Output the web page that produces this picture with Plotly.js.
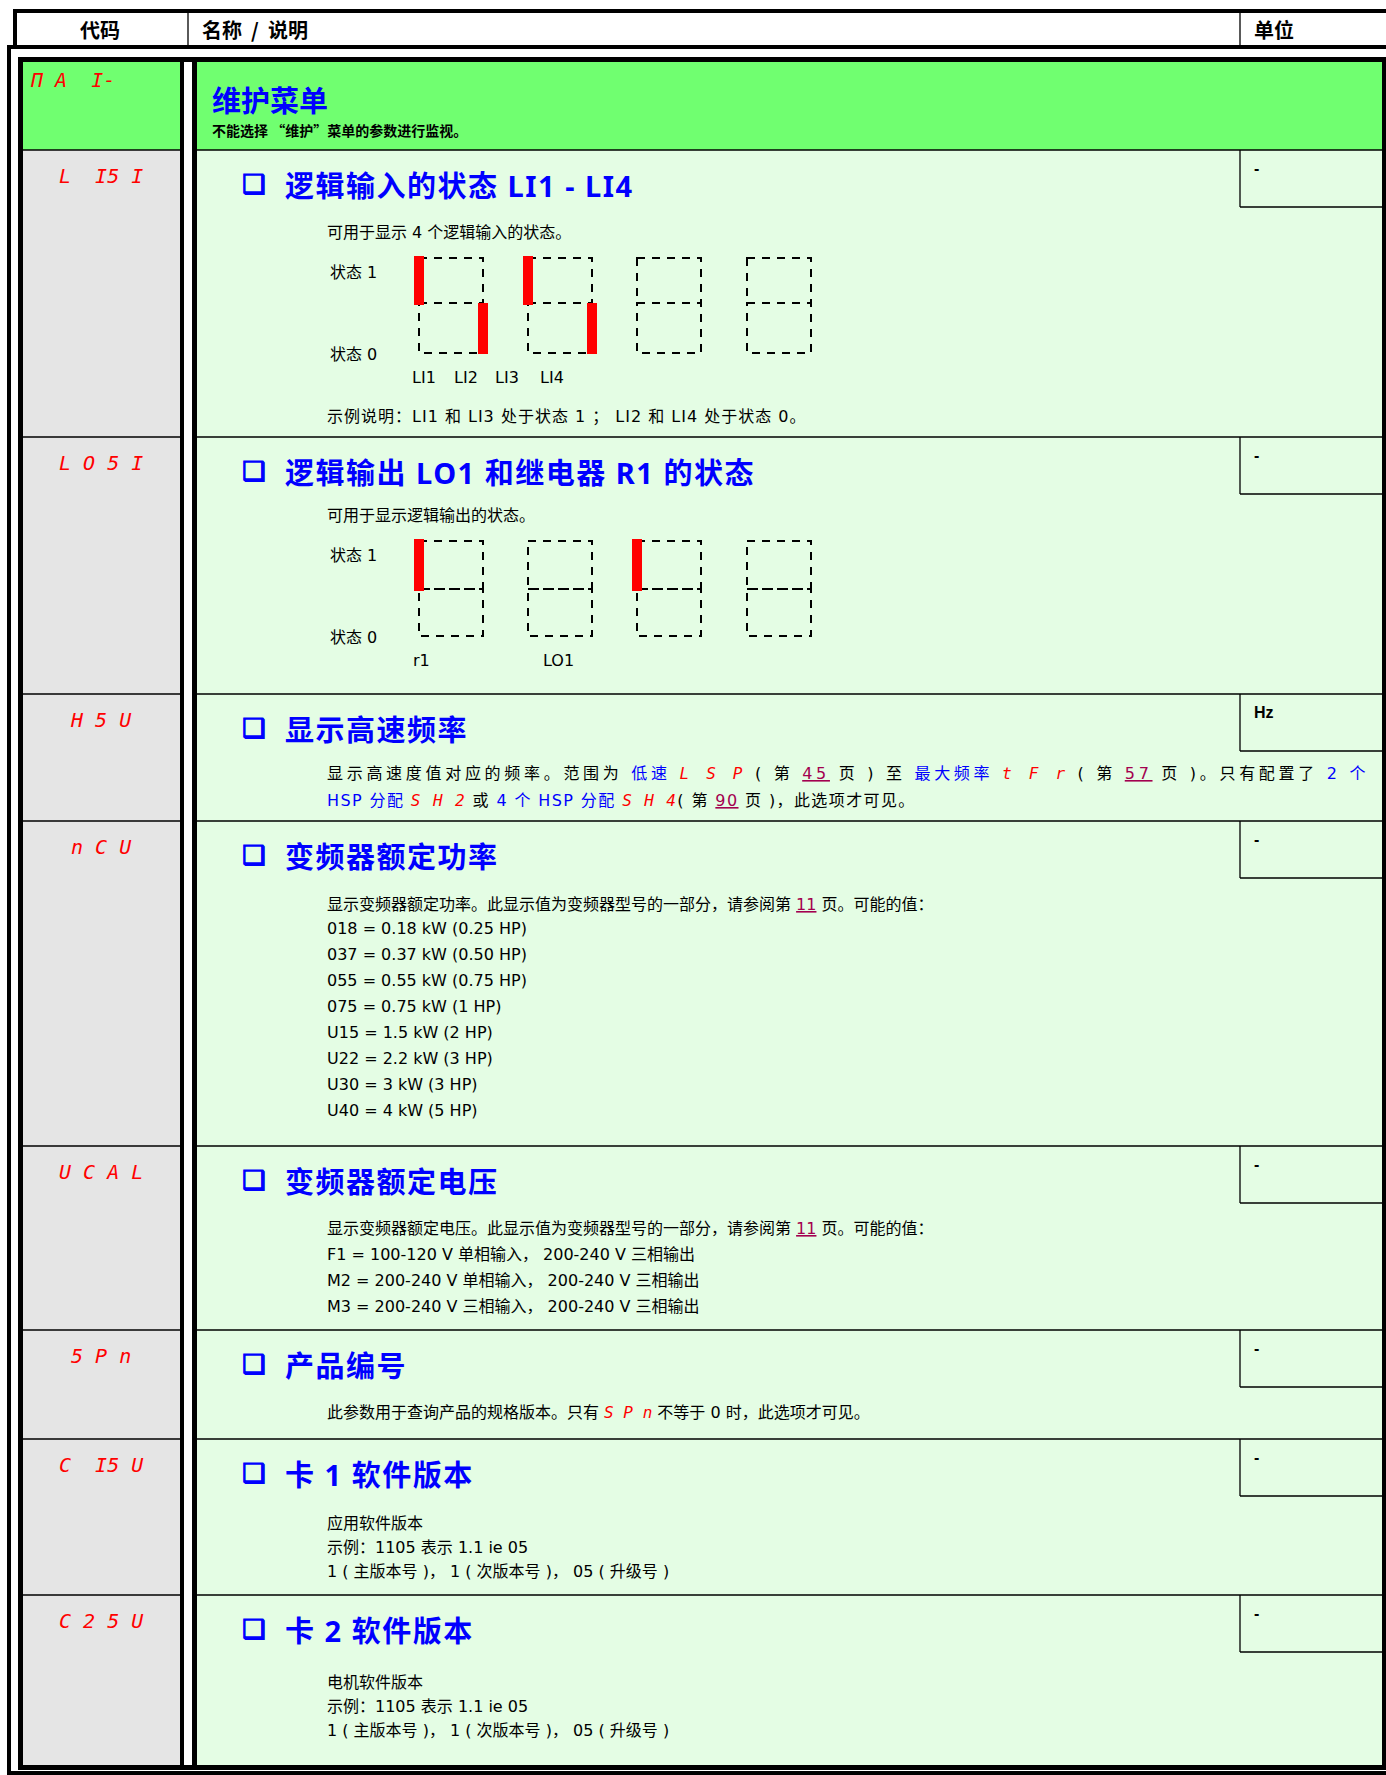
<!DOCTYPE html>
<html><head><meta charset="utf-8">
<script src="https://cdn.plot.ly/plotly-3.0.1.min.js"></script>
<style>html,body{margin:0;padding:0;background:#fff;}#chart{width:1386px;height:1775px;}</style>
</head><body><div id="chart"></div>
<script>
// ---------- DATA ----------
const headerLabels = ["代码", "名称 / 说明", "单位"];
const rowCodes = ["Π A  I-", "L  I5 I", "L O 5 I", "H 5 U", "n C U", "U C A L", "5 P n", "C  I5 U", "C 2 5 U"];
const rowTitles = ["维护菜单", "逻辑输入的状态 LI1 - LI4", "逻辑输出 LO1 和继电器 R1 的状态", "显示高速频率",
  "变频器额定功率", "变频器额定电压", "产品编号", "卡 1 软件版本", "卡 2 软件版本"];
const rowUnits = ["", "-", "-", "Hz", "-", "-", "-", "-", "-"];
const menuNote = "不能选择 “维护”菜单的参数进行监视。";
const stateLabels = ["状态 1", "状态 0"];
const inputLabels = ["LI1", "LI2", "LI3", "LI4"];
const inputStates = [1, 0, 1, 0];           // LI1..LI4
const outputLabels = ["r1", "LO1"];
const outputBars = [[0, 0, 1], [2, 0, 1]];  // [digit, side, state]
const lisText = ["可用于显示 4 个逻辑输入的状态。", "示例说明：LI1 和 LI3 处于状态 1 ； LI2 和 LI4 处于状态 0。"];
const losText = ["可用于显示逻辑输出的状态。"];
const BL = s => '<span style="color:#0000ff">' + s + '</span>';
const RC = s => '<span style="color:#ff0000;font-family:DejaVu Sans Mono;font-style:italic">' + s + '</span>';
const PG = s => '<span style="color:#a3004f"><u>' + s + '</u></span>';
const SP = (s, ls) => '<span style="letter-spacing:' + ls + 'px">' + s + '</span>';
const hsuText = [
  "显示高速度值对应的频率。范围为 " + BL("低速") + " " + RC("L S P") + " ( 第 " + PG("45") + " 页 ) 至 " + BL("最大频率") + " " + RC("t F r") + " ( 第 " + PG("57") + " 页 )。只有配置了 " + BL("2 个"),
  BL("HSP 分配") + " " + RC("S H 2") + " 或 " + BL("4 个 HSP 分配") + " " + RC("S H 4") + "( 第 " + PG("90") + " 页 )，此选项才可见。"
];
const ncuText = ["显示变频器额定功率。此显示值为变频器型号的一部分，请参阅第 " + PG("11") + " 页。可能的值：",
  "018 = 0.18 kW (0.25 HP)", "037 = 0.37 kW (0.50 HP)", "055 = 0.55 kW (0.75 HP)", "075 = 0.75 kW (1 HP)",
  "U15 = 1.5 kW (2 HP)", "U22 = 2.2 kW (3 HP)", "U30 = 3 kW (3 HP)", "U40 = 4 kW (5 HP)"];
const ucalText = ["显示变频器额定电压。此显示值为变频器型号的一部分，请参阅第 " + PG("11") + " 页。可能的值：",
  "F1 = 100-120 V 单相输入， 200-240 V 三相输出", "M2 = 200-240 V 单相输入， 200-240 V 三相输出",
  "M3 = 200-240 V 三相输入， 200-240 V 三相输出"];
const spnText = ["此参数用于查询产品的规格版本。只有 " + RC("S P n") + " 不等于 0 时，此选项才可见。"];
const c1Text = ["应用软件版本", "示例：1105 表示 1.1 ie 05", "1 ( 主版本号 )， 1 ( 次版本号 )， 05 ( 升级号 )"];
const c2Text = ["电机软件版本", "示例：1105 表示 1.1 ie 05", "1 ( 主版本号 )， 1 ( 次版本号 )， 05 ( 升级号 )"];

// ---------- GEOMETRY ----------
const W = 1386, H = 1775;
const rowTops = [62, 150, 437, 694, 821, 1146, 1330, 1439, 1595];
const boxBottom = 1765;
const codeL = 23, codeR = 180, contL = 197, contR = 1382, unitL = 1240;
const CJK = "Noto Sans CJK SC, Noto Sans, sans-serif";
const BODY = "DejaVu Sans, Noto Sans CJK SC, sans-serif";
const TITLE = "Noto Sans, Noto Sans CJK SC, sans-serif";
const shapes = [], ann = [];
function rect(x0, y0, x1, y1, fill, line) {
  shapes.push({type: 'rect', xref: 'x', yref: 'y', x0, y0, x1, y1, fillcolor: fill,
    line: line || {width: 0}, layer: 'above'});
}
function seg(x0, y0, x1, y1, w, dash) {
  shapes.push({type: 'line', xref: 'x', yref: 'y', x0, y0, x1, y1, layer: 'above',
    line: {color: '#000', width: w, dash: dash || 'solid'}});
}
function txt(x, y, text, size, color, o) {
  o = o || {};
  ann.push({x, y, xref: 'x', yref: 'y', text, showarrow: false, xanchor: o.xa || 'left', yanchor: 'middle',
    align: 'left', font: {family: o.family || BODY, size, color, weight: o.weight || 'normal', style: o.style || 'normal'}});
}

// backgrounds
rect(codeL, 62, codeR, boxBottom, '#e5e5e5');
rect(contL, 62, contR, boxBottom, '#e4fde4');
rect(codeL, 62, codeR, rowTops[1], '#70ff70');
rect(contL, 62, contR, rowTops[1], '#70ff70');
// header
rect(13, 9, W, 13, '#000');
rect(7, 45, W, 49, '#000');
rect(13, 9, 17, 49, '#000');
seg(188, 13, 188, 45, 1.3);
seg(unitL, 13, unitL, 45, 1.3);
// outer frame
rect(7, 45, 11, H, '#000');
rect(7, 1771, W, H, '#000');
// inner box
rect(18, 57, W, 62, '#000');
rect(18, 57, 23, 1770, '#000');
rect(1382, 57, W, 1770, '#000');
rect(18, boxBottom, W, 1770, '#000');
rect(codeR, 62, 184, boxBottom, '#000');
rect(192, 62, contL, boxBottom, '#000');
// row separators and unit boxes
for (let i = 1; i < rowTops.length; i++) {
  seg(codeL, rowTops[i], codeR, rowTops[i], 1.3);
  seg(contL, rowTops[i], contR, rowTops[i], 1.3);
  if (rowUnits[i]) {
    seg(unitL, rowTops[i], unitL, rowTops[i] + 57, 1.3);
    seg(unitL, rowTops[i] + 57, contR, rowTops[i] + 57, 1.3);
    txt(1252, rowTops[i] + 18, rowUnits[i], 16, '#000', {family: "Liberation Sans, Arial", weight: 'bold'});
  }
}
// header texts
txt(100, 29, headerLabels[0], 20, '#000', {xa: 'center', weight: 'bold', family: CJK});
txt(200, 29, headerLabels[1].replace(' / ', '  /  '), 20, '#000', {weight: 'bold', family: CJK});
txt(1252, 29, headerLabels[2], 20, '#000', {weight: 'bold', family: CJK});
// codes
txt(28, 80, rowCodes[0], 20, '#ff0000', {family: "DejaVu Sans Mono", style: 'italic'});
for (let i = 1; i < rowCodes.length; i++)
  txt(101, rowTops[i] + 26, rowCodes[i], 20, '#ff0000', {xa: 'center', family: "DejaVu Sans Mono", style: 'italic'});
// menu row
txt(210, 99, rowTitles[0], 29, '#0000ff', {weight: 'bold', family: CJK});
txt(210, 130, menuNote, 14, '#000', {weight: 'bold', family: CJK});
// titles
for (let i = 1; i < rowTitles.length; i++) {
  txt(240, rowTops[i] + 34, '<span style="stroke:#0000ff;stroke-width:1.3px">❑</span>', 26, '#0000ff', {family: "DejaVu Sans", weight: 'bold'});
  txt(283, rowTops[i] + 35, SP(rowTitles[i], 1.5), 29, '#0000ff', {weight: 'bold', family: TITLE});
}
const BX = 325, FS = 16;
function lines(arr, y0, dy) { arr.forEach((t, k) => txt(BX, y0 + k * dy, t, FS, '#000')); }

// digit diagrams
const digitX = [419, 528, 637, 747], DW = 64;
function digits(yTop, yMid, yBot, bars, lbl, lblX, lblY) {
  digitX.forEach(x => {
    shapes.push({type: 'rect', xref: 'x', yref: 'y', x0: x, y0: yTop, x1: x + DW, y1: yMid, layer: 'above',
      line: {color: '#000', width: 2, dash: '8px,7px'}});
    shapes.push({type: 'rect', xref: 'x', yref: 'y', x0: x, y0: yMid, x1: x + DW, y1: yBot, layer: 'above',
      line: {color: '#000', width: 2, dash: '8px,7px'}});
  });
  bars.forEach(b => {
    const x = digitX[b[0]] + (b[1] ? DW : 0);
    const y0 = b[2] ? yTop - 2 : yMid, y1 = b[2] ? yMid + 2 : yBot + 1;
    rect(x - 5, y0, x + 5, y1, '#ff0000');
  });
  txt(BX + 3, yTop + 14, stateLabels[0], FS, '#000');
  txt(BX + 3, yBot + 1, stateLabels[1], FS, '#000');
  lbl.forEach((l, k) => txt(lblX[k], lblY, l, FS, '#000', {xa: 'center'}));
}
// LIS1
txt(BX, 232, lisText[0], FS, '#000');
digits(258, 303, 353, inputStates.map((s, k) => [Math.floor(k / 2), k % 2, s]), inputLabels, [424, 466, 507, 552], 377);
txt(BX, 416, SP(lisText[1], 1), FS, '#000');
// LOS1
txt(BX, 515, losText[0], FS, '#000');
digits(541, 589, 636, outputBars, outputLabels, [421, 558], 660);
// HSU (justified first line)
txt(BX, 773, SP(hsuText[0], 3.7), FS, '#000');
txt(BX, 800, SP(hsuText[1], 1.4), FS, '#000');
// nCU
txt(BX, 904, ncuText[0], FS, '#000');
lines(ncuText.slice(1), 928, 26);
// UCAL
lines(ucalText, 1228, 26);
// SPn
lines(spnText, 1412, 26);
// C1SU / C2SU
lines(c1Text, 1523, 24);
lines(c2Text, 1682, 24);

Plotly.newPlot('chart', [], {
  width: W, height: H, margin: {l: 0, r: 0, t: 0, b: 0},
  paper_bgcolor: '#fff', plot_bgcolor: '#fff', showlegend: false,
  xaxis: {range: [0, W], visible: false, fixedrange: true},
  yaxis: {range: [H, 0], visible: false, fixedrange: true},
  shapes, annotations: ann
}, {staticPlot: true});
</script></body></html>
